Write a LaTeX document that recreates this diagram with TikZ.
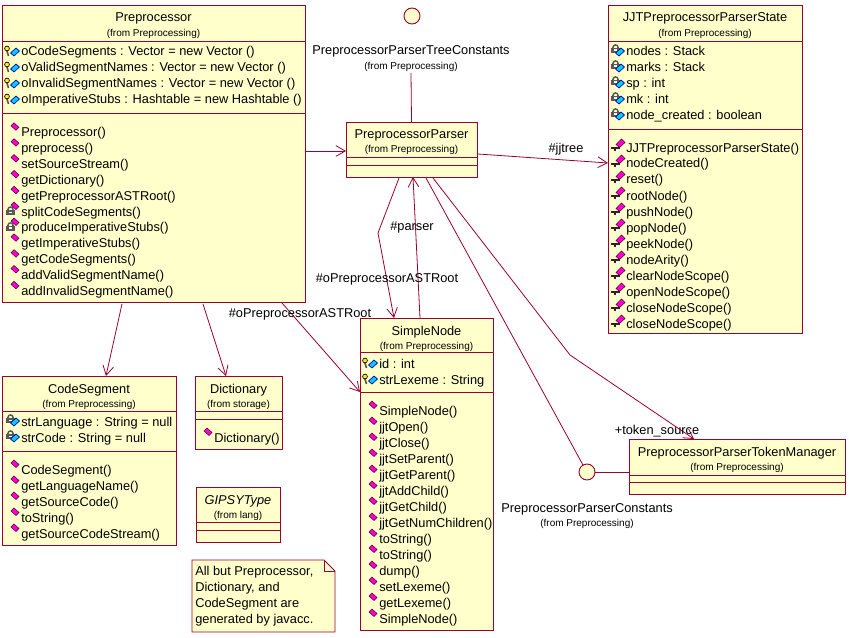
\documentclass[tikz,border=0pt]{standalone}
\usepackage{xcolor}
\usepackage{fontspec}
\setmainfont{Liberation Sans}
\usetikzlibrary{arrows.meta, fit, calc}
\definecolor{umlline}{HTML}{990033}
\definecolor{umlfill}{HTML}{FFFFCC}
\definecolor{umlpink}{HTML}{FF00CC}
\definecolor{umlblue}{HTML}{00CCFF}

\begin{document}
\begin{tikzpicture}[
    x=0.75pt, y=-0.75pt,
    classbox/.style={rectangle, draw=umlline, fill=umlfill, line width=0.7pt, inner sep=0pt, outer sep=0pt},
    compartment/.style={draw=umlline, line width=0.7pt},
    assoc/.style={-{Straight Barb[length=7pt, width=8pt]}, draw=umlline, line width=0.6pt},
    plainline/.style={draw=umlline, line width=0.6pt},
    lollipop/.style={circle, draw=umlline, fill=umlfill, line width=0.7pt, minimum size=12pt, inner sep=0pt, outer sep=0pt},
    title/.style={font=\fontsize{9.6}{11}\selectfont, inner sep=0pt, anchor=base},
    from/.style={font=\fontsize{7.5}{9}\selectfont, inner sep=0pt, anchor=base},
    member/.style={font=\fontsize{9.6}{11}\selectfont, inner sep=0pt, anchor=base west},
    label/.style={font=\fontsize{9.6}{11}\selectfont, inner sep=0pt, anchor=base},
    pinkop/.pic={\draw[fill=umlpink, draw=black!70!umlpink, line width=0.4pt] (-10,-11) -- (-7,-14) -- (-2,-9.5) -- (-5,-6.5) -- cycle;},
    pubop/.pic={\draw[line width=1.2pt, black!85] (-15,-4) -- (-6,-4) (-11,-4) -- (-11,-1);
                \draw[fill=umlpink, draw=black!70!umlpink, line width=0.4pt] (-10,-7.5) -- (-4.5,-13) -- (-1,-9.5) -- (-6.5,-4.5) -- cycle;},
    blueattr/.pic={\draw[fill=umlblue, draw=blue!60!black, line width=0.5pt] (-10.5,-3) -- (-5,-8) -- (-1.5,-5) -- (-7,0) -- cycle;},
    keyattr/.pic={\draw[line width=1.2pt, draw=black!75!yellow] (-14,-5) -- (-12.5,0);
                  \draw[fill=yellow, line width=0.5pt] (-14,-7.5) circle (2.4);
                  \pic {blueattr};},
    lockicon/.pic={\draw[line width=1.1pt, black!65] (-10.5,-8.5) circle (2.6);
                   \fill[black!65] (-15,-8) rectangle (-6,-3);
                   \fill[white] (-12,-6.5) rectangle (-9,-5);},
    lockattr/.pic={\pic {lockicon}; \pic {blueattr};}
]
\useasboundingbox (0,0) rectangle (849,638);

% Klassen
\node[classbox, fit={(2,5) (305,302)}] (preproc) {};
\node[classbox, fit={(346,122) (477,177)}] (parser) {};
\node[classbox, fit={(608,5) (802,333)}] (state) {};
\node[classbox, fit={(360,318) (493,630)}] (simplenode) {};
\node[classbox, fit={(2,376) (176,545)}] (codeseg) {};
\node[classbox, fit={(195,376) (282,449)}] (dict) {};
\node[classbox, fit={(196,487) (280,542)}] (gipsy) {};
\node[classbox, fit={(629,439) (845,494)}] (tokenmgr) {};
\node[lollipop] (treeconst) at (412,16) {};
\node[lollipop] (parserconst) at (587,472) {};

% Compartimenten
\foreach \b/\ya/\yb in {preproc/41/113, parser/157/165, state/41/129, simplenode/352/392, codeseg/411/451, dict/411/419, gipsy/522/530, tokenmgr/475/482} {
    \draw[compartment] (\b.west |- 0,\ya) -- (\b.east |- 0,\ya);
    \draw[compartment] (\b.west |- 0,\yb) -- (\b.east |- 0,\yb);
}

% Titels
\node[title] (preproc-name) at (153.5,22) {Preprocessor};
\node[from] (preproc-from) at (153.5,37) {(from Preprocessing)};
\node[title] (parser-name) at (411.5,139) {PreprocessorParser};
\node[from] (parser-from) at (411.5,153) {(from Preprocessing)};
\node[title] (state-name) at (705,22) {JJTPreprocessorParserState};
\node[from] (state-from) at (705,37) {(from Preprocessing)};
\node[title] (simplenode-name) at (426.5,335) {SimpleNode};
\node[from] (simplenode-from) at (426.5,349) {(from Preprocessing)};
\node[title] (codeseg-name) at (89,393) {CodeSegment};
\node[from] (codeseg-from) at (89,407) {(from Preprocessing)};
\node[title] (dict-name) at (238.5,393) {Dictionary};
\node[from] (dict-from) at (238.5,407) {(from storage)};
\node[title, font=\fontsize{9.6}{11}\selectfont\itshape] (gipsy-name) at (238,504) {GIPSYType};
\node[from] (gipsy-from) at (238,518) {(from lang)};
\node[title] (tokenmgr-name) at (737,456) {PreprocessorParserTokenManager};
\node[from] (tokenmgr-from) at (737,470) {(from Preprocessing)};
\node[label] (treeconst-name) at (411,55) {PreprocessorParserTreeConstants};
\node[from] (treeconst-from) at (411,70) {(from Preprocessing)};
\node[label] (parserconst-name) at (587,512) {PreprocessorParserConstants};
\node[from] (parserconst-from) at (587,526) {(from Preprocessing)};

% Preprocessor
\foreach \txt [count=\i] in {oCodeSegments : Vector = new Vector (), oValidSegmentNames : Vector = new Vector (), oInvalidSegmentNames : Vector = new Vector (), oImperativeStubs : Hashtable = new Hashtable ()} {
    \node[member] (preproc-attr-\i) at (21,40+16*\i) {\txt};
    \pic at (21,40+16*\i) {keyattr};
}
\foreach \txt [count=\i] in {Preprocessor(), preprocess(), setSourceStream(), getDictionary(), getPreprocessorASTRoot(), splitCodeSegments(), produceImperativeStubs(), getImperativeStubs(), getCodeSegments(), addValidSegmentName(), addInvalidSegmentName()} {
    \node[member] (preproc-op-\i) at (21,121+15.85*\i) {\txt};
    \pic at (21,121+15.85*\i) {pinkop};
}
\foreach \i in {6,7} {
    \pic at (21,123+15.85*\i) {lockicon};
}

% JJTPreprocessorParserState
\foreach \txt [count=\i] in {nodes : Stack, marks : Stack, sp : int, mk : int, node\_created : boolean} {
    \node[member] (state-attr-\i) at (626,40+16*\i) {\txt};
    \pic at (626,40+16*\i) {lockattr};
}
\foreach \txt [count=\i] in {JJTPreprocessorParserState(), nodeCreated(), reset(), rootNode(), pushNode(), popNode(), peekNode(), nodeArity(), clearNodeScope(), openNodeScope(), closeNodeScope(), closeNodeScope()} {
    \node[member] (state-op-\i) at (626,136+16*\i) {\txt};
    \pic at (626,136+16*\i) {pubop};
}

% SimpleNode
\foreach \txt [count=\i] in {id : int, strLexeme : String} {
    \node[member] (simplenode-attr-\i) at (379,352+16*\i) {\txt};
    \pic at (379,352+16*\i) {keyattr};
}
\foreach \txt [count=\i] in {SimpleNode(), jjtOpen(), jjtClose(), jjtSetParent(), jjtGetParent(), jjtAddChild(), jjtGetChild(), jjtGetNumChildren(), toString(), toString(), dump(), setLexeme(), getLexeme(), SimpleNode()} {
    \node[member] (simplenode-op-\i) at (379,399+16*\i) {\txt};
    \pic at (379,399+16*\i) {pinkop};
}

% CodeSegment, Dictionary
\foreach \txt [count=\i] in {strLanguage : String = null, strCode : String = null} {
    \node[member] (codeseg-attr-\i) at (21,410+16*\i) {\txt};
    \pic at (21,410+16*\i) {lockattr};
}
\foreach \txt [count=\i] in {CodeSegment(), getLanguageName(), getSourceCode(), toString(), getSourceCodeStream()} {
    \node[member] (codeseg-op-\i) at (21,458+16*\i) {\txt};
    \pic at (21,458+16*\i) {pinkop};
}
\node[member] (dict-op-1) at (214,442) {Dictionary()};
\pic at (214,442) {pinkop};

% Notitie
\draw[classbox] (192,560) -- (324,560) -- (335,571) -- (335,632) -- (192,632) -- cycle;
\draw[compartment] (324,560) -- (324,571) -- (335,571);
\foreach \txt [count=\i] in {{All but Preprocessor,}, {Dictionary, and}, CodeSegment are, generated by javacc.} {
    \node[member] (note-line-\i) at (195,559+16*\i) {\txt};
}

% Pijlen
\draw[assoc] (preproc.east |- 0,151) -- (parser.west |- 0,151);
\draw[assoc] ($(parser.north east)+(1,32)$) -- ($(state.north west)+(0,158)$);
\draw[assoc] ($(parser.south west)+(53,1)$) -- (378,233) -- ($(simplenode.north west)+(34,0)$);
\draw[assoc] ($(simplenode.north west)+(60,0)$) -- ($(parser.south west)+(67,0)$);
\draw[assoc] ($(parser.south west)+(87,1)$) -- (570,355) -- ($(tokenmgr.north west)+(65,0)$);
\draw[assoc] ($(preproc.south west)+(280,1)$) -- ($(simplenode.north west)+(0,74)$);
\draw[assoc] ($(preproc.south west)+(120,2)$) -- ($(codeseg.north west)+(104,0)$);
\draw[assoc] ($(preproc.south west)+(201,2)$) -- ($(dict.north west)+(31,0)$);

% Lijnen
\draw[plainline] (treeconst-from.south |- 0,73) -- (parser.north);
\draw[plainline] ($(parser.south west)+(80,1)$) -- (parserconst.120);
\draw[plainline] (parserconst.east) -- (parserconst.east -| tokenmgr.west);

% Labels
\node[label] (jjtree-label) at (566,153) {\#jjtree};
\node[label] (parser-label) at (412,230) {\#parser};
\node[label] (astroot-label) at (387,282) {\#oPreprocessorASTRoot};
\node[label] (astroot2-label) at (300,317) {\#oPreprocessorASTRoot};
\node[label] (token-label) at (657,434) {+token\_source};
\end{tikzpicture}
\end{document}
